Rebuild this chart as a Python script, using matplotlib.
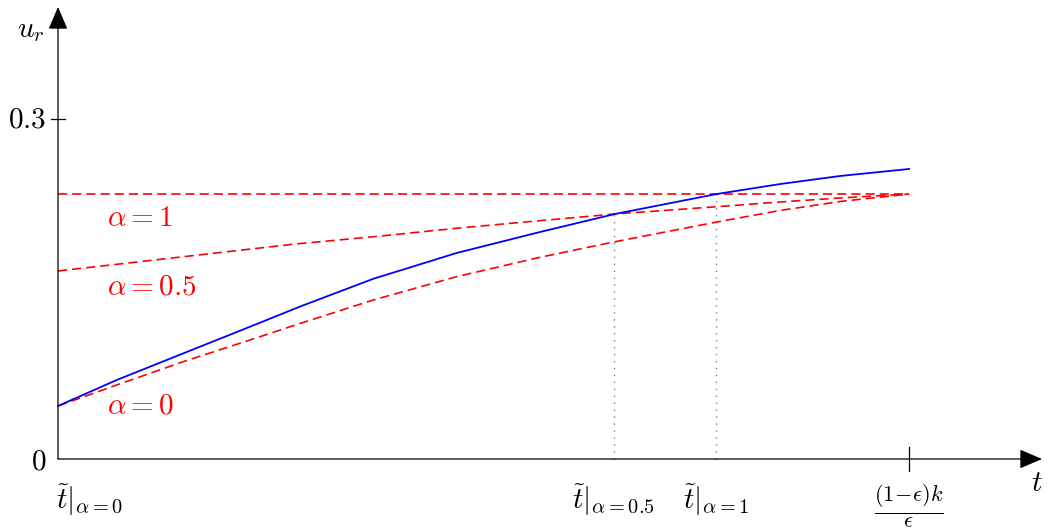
import numpy as np
import matplotlib
matplotlib.use('Agg')
import matplotlib.pyplot as plt

plt.rcParams['mathtext.fontset'] = 'cm'
plt.rcParams['font.family'] = 'DejaVu Serif'

# t is scaled so that (1-eps)k/eps == 1
t_blue = [0.0, 0.0690, 0.1472, 0.2256, 0.2844, 0.3705, 0.4685, 0.5664, 0.6545,
          0.7740, 0.8484, 0.9189, 1.0]
u_blue = [0.0468, 0.0697, 0.0932, 0.1167, 0.1345, 0.1590, 0.1818, 0.2003, 0.2162,
          0.2338, 0.2426, 0.2497, 0.2559]

t_a1 = [0.0, 1.0]
u_a1 = [0.2338, 0.2338]

t_a05 = [0.0, 0.2785, 0.3705, 0.4685, 0.5664, 0.6545, 0.7740, 0.8484, 0.9189, 1.0]
u_a05 = [0.1659, 0.1897, 0.1961, 0.2036, 0.2103, 0.2162, 0.2226, 0.2268, 0.2303, 0.2338]

t_a0 = [0.0, 0.0690, 0.1472, 0.2256, 0.2844, 0.3705, 0.4685, 0.5664, 0.6545,
        0.7740, 0.8484, 0.9189, 1.0]
u_a0 = [0.0468, 0.0653, 0.0859, 0.1050, 0.1196, 0.1403, 0.1609, 0.1780, 0.1917,
        0.2091, 0.2193, 0.2272, 0.2338]

alpha_labels = [r'$\alpha = 1$', r'$\alpha = 0.5$', r'$\alpha = 0$']
alpha_label_t = [0.058, 0.058, 0.058]
alpha_label_u = [0.2126, 0.1518, 0.0476]

t_cross = [0.6533, 0.7732]
u_cross = [0.2162, 0.2338]

xtick_pos = [0.0, 0.6533, 0.7732]
xtick_labels = [r'$\tilde{t}|_{\alpha=0}$', r'$\tilde{t}|_{\alpha=0.5}$', r'$\tilde{t}|_{\alpha=1}$']
t_end = 1.0
t_end_label = r'$\frac{(1\!-\!\epsilon)k}{\epsilon}$'

fig = plt.figure(figsize=(10.48, 5.31), dpi=100)
ax = fig.add_axes([0, 0, 1, 1])
ax.set_xlim(-58 / 851, 990 / 851)
ax.set_ylim(-72 / 340 * 0.3, 459 / 340 * 0.3)
ax.axis('off')

# axes with arrows
arr = dict(arrowstyle='-|>,head_length=0.7,head_width=0.3',
           color='black', lw=0.9, mutation_scale=20, shrinkA=0, shrinkB=0)
ax.annotate('', xy=(984 / 851, 0), xytext=(0, 0), arrowprops=arr)
ax.annotate('', xy=(0, 452 / 340 * 0.3), xytext=(0, 0), arrowprops=arr)

# ticks
ax.plot([-7 / 851, 7 / 851], [0.3, 0.3], color='black', lw=0.9)
ax.plot([t_end, t_end], [-12 / 340 * 0.3, 12 / 340 * 0.3], color='black', lw=0.9)

fs = 21
ax.text(-12 / 851, 0.3, r'$0.3$', ha='right', va='center', fontsize=fs)
ax.text(-12 / 851, -0.002, r'$0$', ha='right', va='center', fontsize=fs)
ax.text(-27 / 851, 0.3785, r'$u_r$', ha='center', va='center', fontsize=fs)
ax.text(979 / 851, -0.021, r'$t$', ha='center', va='center', fontsize=fs)

for x, lab in zip(xtick_pos, xtick_labels):
    xoff = 32 / 851 if x == 0 else 0.0
    ax.text(x + xoff, -0.036, lab, ha='center', va='center', fontsize=fs)
ax.text(t_end, -0.0415, t_end_label, ha='center', va='center', fontsize=23)

# dotted drop lines
for tc, uc in zip(t_cross, u_cross):
    ax.plot([tc, tc], [0, uc], color='#808080', lw=1.0, linestyle=(0, (1, 4)))

# curves
dash = (0, (5.5, 3))
ax.plot(t_a1, u_a1, color='red', lw=1.2, linestyle=dash)
ax.plot(t_a05, u_a05, color='red', lw=1.2, linestyle=dash)
ax.plot(t_a0, u_a0, color='red', lw=1.2, linestyle=dash)
ax.plot(t_blue, u_blue, color='blue', lw=1.3)

for x, y, lab in zip(alpha_label_t, alpha_label_u, alpha_labels):
    ax.text(x, y, lab, ha='left', va='center', fontsize=fs, color='red')

fig.savefig('out.png', dpi=100)
